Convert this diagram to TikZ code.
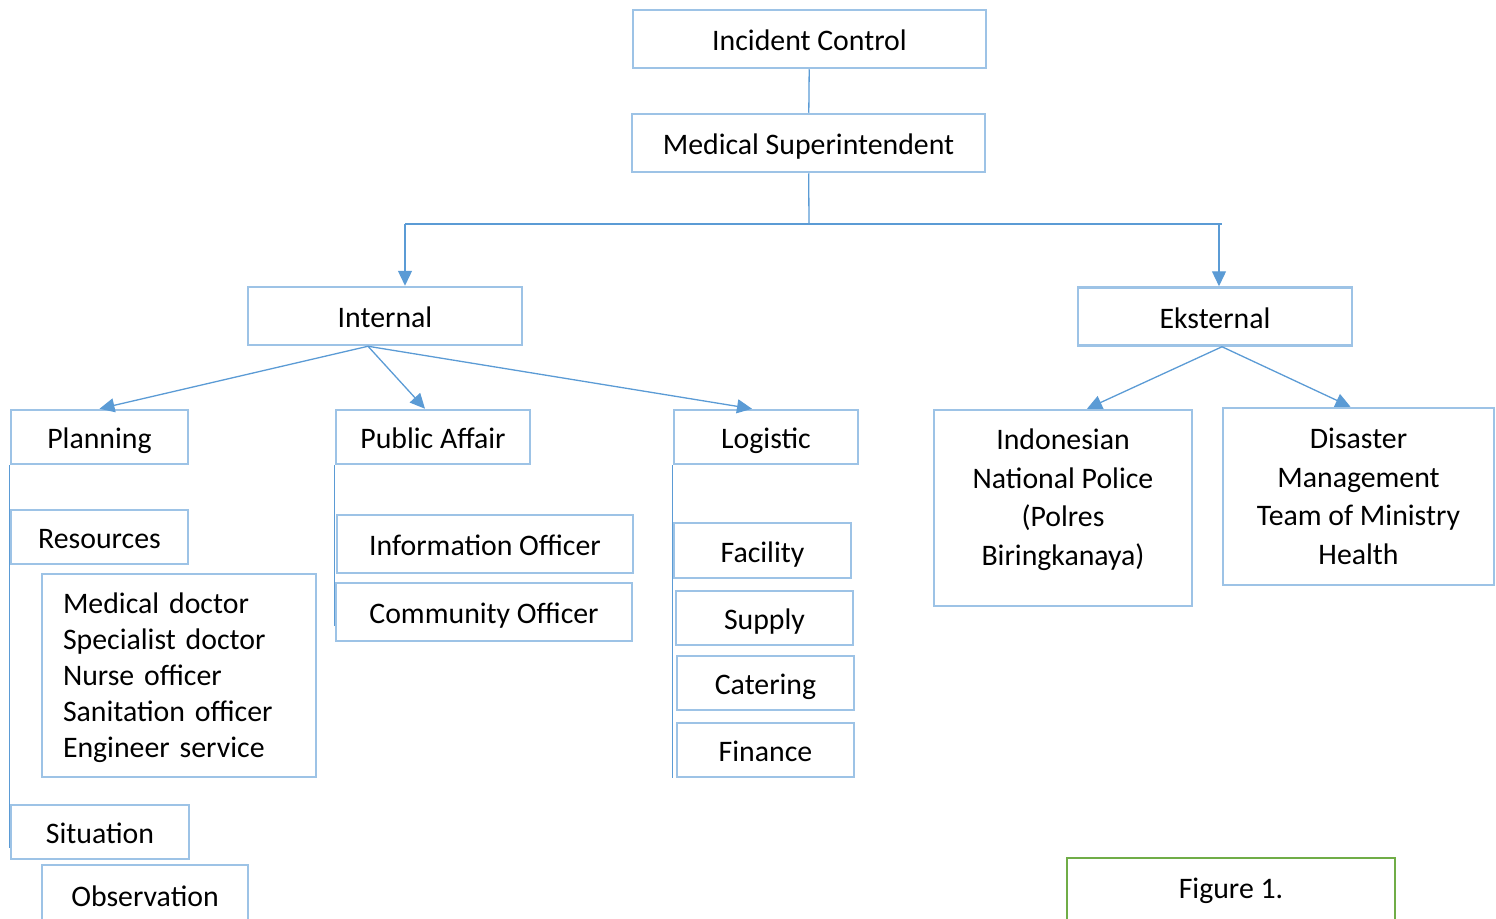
\documentclass[tikz,border=0pt]{standalone}
\usepackage{fontspec}
\setmainfont{Carlito}
\usetikzlibrary{arrows.meta,positioning}
\definecolor{boxblue}{RGB}{157,195,230}
\definecolor{lineblue}{RGB}{91,155,213}
\definecolor{figgreen}{RGB}{112,173,71}

\begin{document}
\begin{tikzpicture}[x=1pt, y=-1pt, font=\fontsize{29.8}{38.5}\selectfont,
	frame/.style={draw=boxblue, line width=2.5pt, inner sep=0pt, minimum height=58pt},
	unit/.style={frame, text height=27pt, text depth=4pt},
	link/.style={draw=lineblue, line width=1.3pt},
	arr/.style={link, -{Triangle[length=15pt, width=14pt]}}]
	\useasboundingbox (0,0) rectangle (1496,918);
	% top of the chart
	\node [unit, minimum width=353pt](incident_node) at (809.5,39) {Incident Control};
	\node [unit, minimum width=353pt](medical_node) at (808.5,143) {Medical Superintendent};
	\node [unit, minimum width=274pt](internal_node) at (385,316) {Internal};
	\node [unit, minimum width=274pt](eksternal_node) at (1215,316.5) {Eksternal};
	% internal side
	\node [unit, minimum width=177pt, minimum height=54pt](planning_node) at (99.5,437) {Planning};
	\node [unit, minimum width=177pt, minimum height=54pt](resources_node) at (99.5,537) {Resources};
	\node [frame, minimum height=203pt, text width=232pt, inner xsep=21pt, align=left, font=\fontsize{29.8}{36}\selectfont, text height=20pt, text depth=144pt](staff_node) at (179,675.5) {Medical doctor\\Specialist doctor\\Nurse officer\\Sanitation officer\\Engineer service};
	\node [unit, minimum width=178pt, minimum height=54pt](situation_node) at (100,832) {Situation};
	\node [unit, minimum width=206pt, minimum height=60pt](observation_node) at (145,895) {Observation};
	\node [unit, minimum width=194pt, minimum height=54pt](public_node) at (433,437) {Public Affair};
	\node [unit, minimum width=296pt](information_node) at (485,544) {Information Officer};
	\node [unit, minimum width=296pt](community_node) at (484,612) {Community Officer};
	\node [unit, minimum width=184pt, minimum height=54pt](logistic_node) at (766,437) {Logistic};
	\node [unit, minimum width=177pt, minimum height=55pt](facility_node) at (762.5,550.5) {Facility};
	\node [unit, minimum width=177pt, minimum height=54pt](supply_node) at (764.5,618) {Supply};
	\node [unit, minimum width=177pt, minimum height=54pt](catering_node) at (765.5,683) {Catering};
	\node [unit, minimum width=177pt, minimum height=54pt](finance_node) at (765.5,750) {Finance};
	% eksternal side
	\node [frame, minimum width=258pt, minimum height=196pt, align=center, text height=121pt, text depth=7pt](police_node) at (1063,508) {Indonesian\\National Police\\(Polres\\Biringkanaya)};
	\node [frame, minimum width=271pt, minimum height=177pt, align=center](disaster_node) at (1358.5,496.5) {Disaster\\Management\\Team of Ministry\\Health};
	\node [frame, draw=figgreen, minimum width=328pt, minimum height=72pt, text height=12pt, text depth=4pt](figure_node) at (1231,894) {Figure 1.};
	% connectors
	\coordinate (split_c) at (809,224);
	\coordinate (left_c) at (405,224);
	\coordinate (right_c) at (1222,224);
	\draw [link] (incident_node) -- (medical_node);
	\draw [link] (medical_node) -- (split_c);
	\draw [link] (left_c) -- (right_c);
	\draw [arr] (left_c) -- (left_c |- internal_node.north);
	\draw [arr] ([xshift=-3pt]right_c) -- ([xshift=-3pt]right_c |- eksternal_node.north);
	\draw [arr] ([xshift=-17pt]internal_node.south) -- ([xshift=0pt]planning_node.north);
	\draw [arr] ([xshift=-17pt]internal_node.south) -- ([xshift=-8pt]public_node.north);
	\draw [arr] ([xshift=-17pt]internal_node.south) -- ([xshift=-14pt]logistic_node.north);
	\draw [arr] ([xshift=7pt]eksternal_node.south) -- ([xshift=24pt]police_node.north);
	\draw [arr] ([xshift=7pt]eksternal_node.south) -- ([xshift=-8pt]disaster_node.north);
	\draw [link] (planning_node.south west) -- ([yshift=12pt]situation_node.south west);
	\draw [link] (public_node.south west) -- ([yshift=16pt]community_node.south west);
	\draw [link] (logistic_node.south west) -- (logistic_node.south west |- finance_node.south);
\end{tikzpicture}
\end{document}
